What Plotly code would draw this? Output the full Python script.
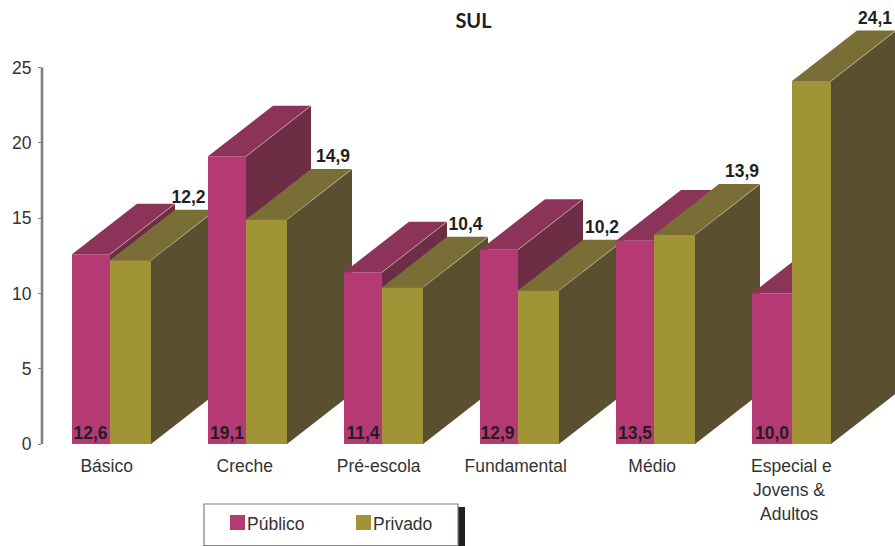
import plotly.graph_objects as go

categories = ["Básico", "Creche", "Pré-escola", "Fundamental", "Médio", "Especial e"]
extra_lines = {5: ["Jovens &", "Adultos"]}
publico = [12.6, 19.1, 11.4, 12.9, 13.5, 10.0]
privado = [12.2, 14.9, 10.4, 10.2, 13.9, 24.1]
publico_txt = ["12,6", "19,1", "11,4", "12,9", "13,5", "10,0"]
privado_txt = ["12,2", "14,9", "10,4", "10,2", "13,9", "24,1"]
y_ticks = [0, 5, 10, 15, 20, 25]

W, H = 895, 546
L, B = 42, 102
PW, PH = W - L, H - B
PX_Y = 15.06      # pixels per unit on y
PX_X = 136.0      # pixels per category on x
X0 = 72           # pixel of category 0
pub_w = [38, 38, 38, 38, 38, 40]
priv_w = [41, 41, 41, 41, 41, 39]
DX, DY = 65 / PX_X, 50.6 / PX_Y
tick_off = [34.7, 36.7, 34.7, 35.7, 36.2, 39.4]
pub_lab_off = [18.5, 19, 19, 17.5, 19, 20]
priv_lab_off = [116.5, 125, 121.5, 122, 126, 123]

C_PUB = ("#b53a74", "#8c3359", "#6c2d45")
C_PRI = ("#a09436", "#796e35", "#5a5030")
EDGE = "#d8d0b0"
INK = "#231f20"
AXIS = "#808080"
TXT = "#333333"
FONT = "Liberation Sans"
FS = 17.5


def px(v):
    return (v - L) / PW


def py(v):
    return (PH - v) / PH


fig = go.Figure()


def poly(xs, ys, color):
    fig.add_trace(go.Scatter(x=xs, y=ys, mode="lines", fill="toself", fillcolor=color,
                             line=dict(width=0, color=color), hoverinfo="skip", showlegend=False))


def bar3d(x, w, v, cols):
    front, top, side = cols
    r = x + w
    poly([r, r + DX, r + DX, r, r], [0, DY, v + DY, v, 0], side)
    poly([x, x + DX, r + DX, r, x], [v, v + DY, v + DY, v, v], top)
    poly([x, r, r, x, x], [0, 0, v, v, 0], front)
    fig.add_trace(go.Scatter(x=[r, r + DX], y=[v, v + DY], mode="lines",
                             line=dict(width=0.6, color=EDGE), hoverinfo="skip", showlegend=False))


for i, (a, b) in enumerate(zip(publico, privado)):
    w1, w2 = pub_w[i] / PX_X, priv_w[i] / PX_X
    bar3d(i, w1, a, C_PUB)
    bar3d(i + w1, w2, b, C_PRI)

fig.add_trace(go.Scatter(
    x=[i + o / PX_X for i, o in enumerate(pub_lab_off)], y=[9.2 / PX_Y] * 6,
    text=publico_txt, mode="text", textposition="middle center",
    textfont=dict(family=FONT, size=FS, color=INK, weight="bold"),
    hoverinfo="skip", showlegend=False))
fig.add_trace(go.Scatter(
    x=[i + o / PX_X for i, o in enumerate(priv_lab_off)],
    y=[v + DY + 11 / PX_Y for v in privado],
    text=privado_txt, mode="text", textposition="middle center",
    textfont=dict(family=FONT, size=FS, color=INK, weight="bold"),
    hoverinfo="skip", showlegend=False))

shapes = [
    dict(type="line", xref="paper", yref="y", x0=0, x1=0, y0=0, y1=25,
         line=dict(color=AXIS, width=2.6)),
    dict(type="rect", xref="paper", yref="paper", x0=px(458), x1=px(465), y0=py(507), y1=py(546),
         fillcolor=INK, line=dict(width=0)),
    dict(type="rect", xref="paper", yref="paper", x0=px(204), x1=px(458), y0=py(504), y1=py(545.5),
         fillcolor="white", line=dict(color=AXIS, width=1.2)),
    dict(type="rect", xref="paper", yref="paper", x0=px(230), x1=px(245), y0=py(515), y1=py(530),
         fillcolor=C_PUB[0], line=dict(width=0)),
    dict(type="rect", xref="paper", yref="paper", x0=px(356), x1=px(371), y0=py(515), y1=py(530),
         fillcolor=C_PRI[0], line=dict(width=0)),
]

annotations = [
    dict(xref="paper", yref="paper", x=px(245.5), y=py(524), text="Público", showarrow=False,
         xanchor="left", yanchor="middle", borderpad=0, font=dict(family=FONT, size=FS, color=TXT)),
    dict(xref="paper", yref="paper", x=px(371.5), y=py(524), text="Privado", showarrow=False,
         xanchor="left", yanchor="middle", borderpad=0, font=dict(family=FONT, size=FS, color=TXT)),
]
for i, lines in extra_lines.items():
    for k, t in enumerate(lines):
        annotations.append(dict(xref="paper", yref="paper", x=px(X0 + i * PX_X + tick_off[i] - 2),
                                y=py(465.7 + 24.3 * (k + 1)), text=t, showarrow=False,
                                xanchor="center", yanchor="middle", borderpad=0,
                                font=dict(family=FONT, size=FS, color=TXT)))

fig.update_layout(
    width=W, height=H, autosize=False,
    margin=dict(l=L, r=0, t=0, b=B, pad=0),
    paper_bgcolor="white", plot_bgcolor="white", showlegend=False,
    title=dict(text="<b>SUL</b>", x=473.5 / W, xanchor="center", xref="container",
               y=1 - 21 / H, yanchor="middle", yref="container",
               font=dict(family="Lato", size=20, color=INK)),
    xaxis=dict(range=[(L - X0) / PX_X, (W - X0) / PX_X], showgrid=False, zeroline=False,
               showline=False, ticks="", tickmode="array",
               tickvals=[i + o / PX_X for i, o in enumerate(tick_off)], ticktext=categories,
               tickfont=dict(family=FONT, size=FS, color=TXT), tickangle=0, ticklabelstandoff=9),
    yaxis=dict(range=[0, PH / PX_Y], showgrid=False, zeroline=False, showline=False,
               tickmode="array", tickvals=y_ticks, ticktext=[str(v) for v in y_ticks],
               ticks="outside", ticklen=3, tickwidth=1.2, tickcolor=AXIS,
               tickfont=dict(family=FONT, size=FS, color=TXT), ticklabelstandoff=3),
    shapes=shapes, annotations=annotations,
)

fig.write_html("out.html", config={"displayModeBar": False},
               post_script="document.body.style.margin='0';document.body.style.overflow='hidden';")
